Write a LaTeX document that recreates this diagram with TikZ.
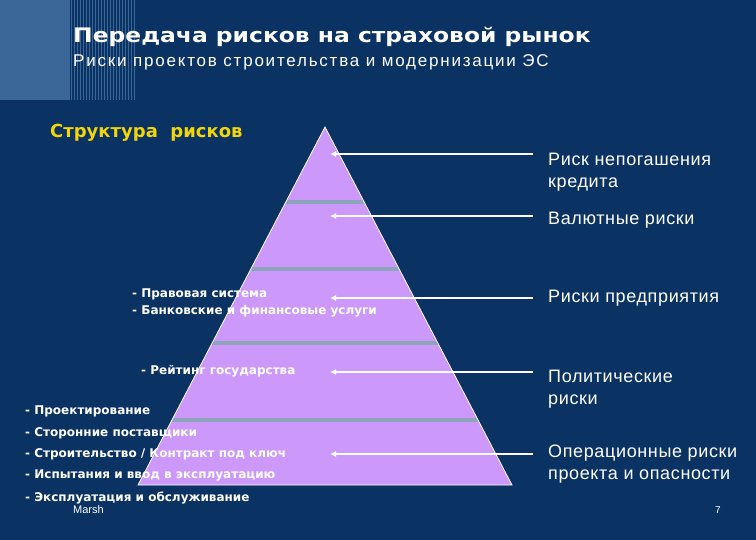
\documentclass[tikz,border=0pt]{standalone}
\usepackage{fontspec}
\setmainfont{Liberation Sans}
\newfontfamily\widefont{DejaVu Sans}
\usetikzlibrary{arrows.meta}

\definecolor{navy}{RGB}{10,50,98}
\definecolor{paleblue}{RGB}{58,103,152}
\definecolor{lilac}{RGB}{204,153,250}
\definecolor{bandgray}{RGB}{142,164,188}
\definecolor{headyellow}{RGB}{242,214,10}

\tikzset{
	riskarrow/.style = {white, line width = 1.6pt, -{Latex[length = 6pt, width = 6pt]}},
	rightlabel/.style = {anchor = base west, inner sep = 0pt, text = white, align = left,
		font = \fontsize{18}{22}\selectfont\addfontfeature{LetterSpace = 3.5}},
	leftitem/.style = {anchor = base west, inner sep = 0pt, text = white,
		font = \widefont\bfseries\fontsize{12}{14}\selectfont}
}

\begin{document}
\begin{tikzpicture}[x = 1pt, y = -1pt]
	 \fill[navy] (0, 0) rectangle (756, 540);
	 \useasboundingbox (0, 0) rectangle (756, 540);
	 
	 \fill[paleblue] (0, 0) rectangle (70, 100);
	 \foreach \x in {71.5, 74.5, ..., 137}
	 \draw[paleblue, line width = 1.5pt] (\x, 0) -- (\x, 100);
	 
	 \node[anchor = base west, inner sep = 0pt, text = white, font = \widefont\bfseries\fontsize{20}{24}\selectfont] (title) at (73, 43) {\scalebox{1.17}[1]{Передача рисков на страховой рынок}};
	 \node[anchor = base west, inner sep = 0pt, text = white, font = \fontsize{17}{20}\selectfont\addfontfeature{LetterSpace = 10.5}] (subtitle) at (73, 67) {Риски проектов строительства и модернизации ЭС};
	 \node[anchor = base west, inner sep = 0pt, text = headyellow, font = \widefont\bfseries\fontsize{18}{21}\selectfont] (structure) at (50, 138) {Структура\ \ рисков};
	 
	 \coordinate (apex) at (325, 127);
	 \coordinate (baseleft) at (138, 485);
	 \coordinate (baseright) at (512, 485);
	 
	 \fill[lilac] (baseleft) -- (apex) -- (baseright) -- cycle;
	 \begin{scope}
	 \clip (baseleft) -- (apex) -- (baseright) -- cycle;
	 \foreach \y in {202, 269, 343, 420}
	 \draw[bandgray, line width = 4pt] (100, \y) -- (560, \y);
	 \end{scope}
	 \draw[white, line width = 0.8pt] (baseleft) -- (apex) -- (baseright) -- cycle;
	 
	 \foreach \y [count = \i] in {154, 216, 298, 372, 454} {
	 \coordinate (from\i) at (533, \y);
	 \coordinate (to\i) at (330, \y);
	 \draw[riskarrow] (from\i) -- (to\i);
	 }
	 
	 % base anchor of a two-line label is its last line
	 \node[rightlabel] (default) at (548, 188) {Риск непогашения\\кредита};
	 \node[rightlabel] (currency) at (548, 225) {Валютные риски};
	 \node[rightlabel] (enterprise) at (548, 303) {Риски предприятия};
	 \node[rightlabel] (political) at (548, 405) {Политические\\риски};
	 \node[rightlabel] (operational) at (548, 479) {Операционные риски\\проекта и опасности};
	 
	 \node[leftitem] (legal) at (132, 298) {- Правовая система};
	 \node[leftitem] (banking) at (132, 315) {- Банковские и финансовые услуги};
	 \node[leftitem] (rating) at (141, 375) {- Рейтинг государства};
	 \node[leftitem] (design) at (25, 414) {- Проектирование};
	 \node[leftitem] (suppliers) at (25, 436) {- Сторонние поставщики};
	 \node[leftitem] (turnkey) at (25, 457) {- Строительство / Контракт под ключ};
	 \node[leftitem] (testing) at (25, 478) {- Испытания и ввод в эксплуатацию};
	 \node[leftitem] (operation) at (25, 501) {- Эксплуатация и обслуживание};
	 \node[anchor = base west, inner sep = 0pt, text = white, font = \fontsize{11}{13}\selectfont] (marsh) at (73, 513) {Marsh};
	 
	 \node[anchor = base west, inner sep = 0pt, text = white, font = \fontsize{10}{12}\selectfont] (page) at (715, 513) {7};
\end{tikzpicture}
\end{document}
